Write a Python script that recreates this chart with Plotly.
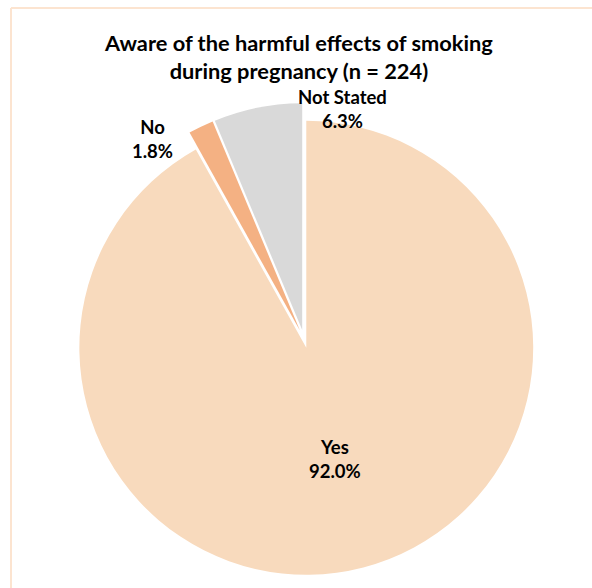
import plotly.graph_objects as go

# Survey responses: aware of the harmful effects of smoking during pregnancy
categories = ["Yes", "No", "Not Stated"]
percentages = [92.0, 1.8, 6.3]
colors = ["#F8DABD", "#F4B183", "#D9D9D9"]

W, H = 592, 588

fig = go.Figure(
    go.Pie(
        labels=categories,
        values=percentages,
        sort=False,
        direction="clockwise",
        rotation=0,
        pull=[0.04, 0.04, 0.04],
        marker=dict(colors=colors, line=dict(color="white", width=0)),
        textinfo="none",
        hoverinfo="label+percent",
        showlegend=False,
        domain=dict(x=[68 / W, 540 / W], y=[1 - 575 / H, 1 - 103 / H]),
    )
)

# Category labels with their percentages
label_pos = {"Yes": (335, 459), "No": (152, 139), "Not Stated": (342, 109)}
for cat, pct in zip(categories, percentages):
    px, py = label_pos[cat]
    fig.add_annotation(
        x=px / W, y=1 - py / H, xref="paper", yref="paper",
        text=f"<b>{cat}<br>{pct:.1f}%</b>", showarrow=False,
        font=dict(family="Lato", size=18.5, color="#000000"),
        xanchor="center", yanchor="middle", align="center",
    )

# Title
fig.add_annotation(
    x=298 / W, y=1 - 56 / H, xref="paper", yref="paper",
    text="<b>Aware of the harmful effects of smoking<br>during pregnancy (n = 224)</b>",
    showarrow=False, align="center", xanchor="center", yanchor="middle",
    font=dict(family="Lato", size=21.8, color="#000000"),
)

# Chart-area frame (top and left edges)
frame = dict(color="#FCE4D0", width=2)
fig.add_shape(type="line", xref="paper", yref="paper",
              x0=11 / W, y0=1 - 8 / H, x1=1, y1=1 - 8 / H, line=frame)
fig.add_shape(type="line", xref="paper", yref="paper",
              x0=11 / W, y0=1 - 8 / H, x1=11 / W, y1=0, line=frame)

fig.update_layout(
    width=W, height=H,
    margin=dict(l=0, r=0, t=0, b=0),
    paper_bgcolor="white", plot_bgcolor="white",
)

fig.write_html("out.html")
